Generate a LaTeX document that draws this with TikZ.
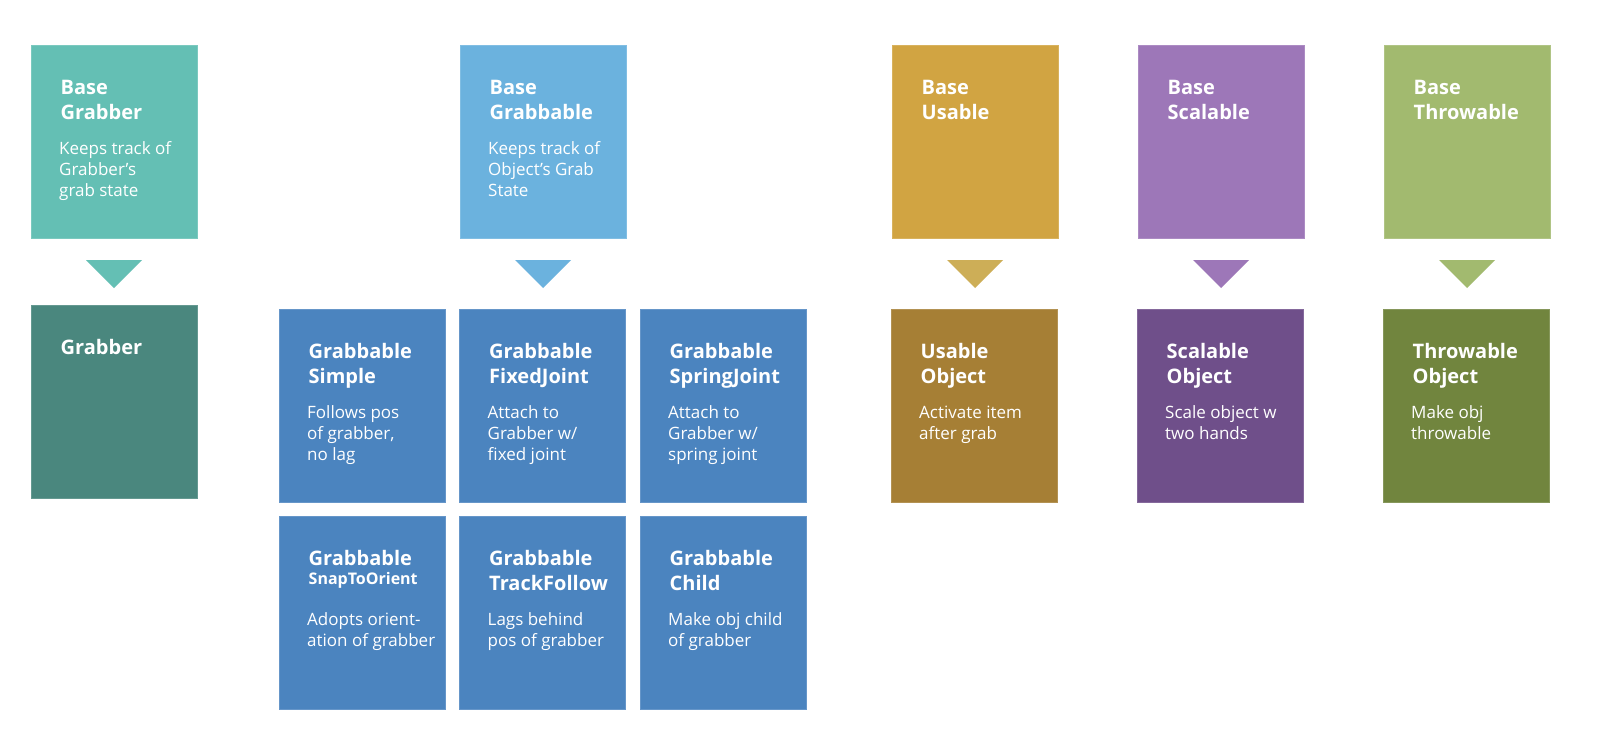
\documentclass[tikz,border=0pt]{standalone}
\usepackage{fontspec}
\setmainfont{Open Sans}
\usetikzlibrary{calc}
\definecolor{tealL}{HTML}{64BFB4}
\definecolor{tealD}{HTML}{4A877E}
\definecolor{blueL}{HTML}{6BB2DE}
\definecolor{blueD}{HTML}{4B84BF}
\definecolor{goldL}{HTML}{D1A442}
\definecolor{goldD}{HTML}{A67F35}
\definecolor{goldT}{HTML}{CDAE57}
\definecolor{purpL}{HTML}{9D77B8}
\definecolor{purpD}{HTML}{6F4F8A}
\definecolor{greenL}{HTML}{A2BA6F}
\definecolor{greenD}{HTML}{71853E}
\tikzset{
  box/.style={fill=#1, draw=#1!85!white, line width=0.8pt, minimum width=166pt,
    minimum height=193pt, anchor=north west, inner sep=0pt, outer sep=0pt},
  ttl/.style={anchor=north west, inner sep=0pt, align=left, text=white,
    font=\bfseries\fontsize{20}{25.3}\selectfont},
  bdy/.style={anchor=north west, inner sep=0pt, align=left, text=white,
    font=\fontsize{17}{21}\selectfont},
}
\newcommand\blk[6]{%
  \node[box=#4] (#1) at (#2,#3) {};
  \node[ttl] (#1t) at ($(#1.north west)+(29.5,29)$) {\rule{0pt}{20pt}#5};
  \node[bdy] (#1b) at ($(#1.north west)+(28,89)$) {\rule{0pt}{20pt}#6};
}
\newcommand\downtri[2]{%
  \fill[#2] ($(#1.south)+(-28,22)$) -- ($(#1.south)+(28,22)$) -- ($(#1.south)+(0,50)$) -- cycle;
}
\begin{document}
\begin{tikzpicture}[x=1pt,y=-1pt]
\fill[white] (0,0) rectangle (1600,742);
\useasboundingbox (0,0) rectangle (1600,742);
% top row
\blk{bgr}{31}{45}{tealL}{Base\\Grabber}{Keeps track of\\Grabber’s\\grab state}
\blk{bgb}{460}{45}{blueL}{Base\\Grabbable}{Keeps track of\\Object’s Grab\\State}
\blk{bus}{892}{45}{goldL}{Base\\Usable}{}
\blk{bsc}{1138}{45}{purpL}{Base\\Scalable}{}
\blk{bth}{1384}{45}{greenL}{Base\\Throwable}{}
% arrows
\downtri{bgr}{tealL}
\downtri{bgb}{blueL}
\downtri{bus}{goldT}
\downtri{bsc}{purpL}
\downtri{bth}{greenL}
% second row
\blk{gr}{31}{305}{tealD}{Grabber}{}
\blk{gs}{279}{309}{blueD}{Grabbable\\Simple}{Follows pos\\of grabber,\\no lag}
\blk{gf}{459.5}{309}{blueD}{Grabbable\\FixedJoint}{Attach to\\Grabber w/\\fixed joint}
\blk{gj}{640}{309}{blueD}{Grabbable\\SpringJoint}{Attach to\\Grabber w/\\spring joint}
\blk{uo}{891}{309}{goldD}{Usable\\Object}{Activate item\\after grab}
\blk{so}{1137}{309}{purpD}{Scalable\\Object}{Scale object w\\two hands}
\blk{to}{1383}{309}{greenD}{Throwable\\Object}{Make obj\\throwable}
% third row
\blk{go}{279}{516}{blueD}{Grabbable\\[-6pt]{\fontsize{16}{20}\selectfont SnapToOrient}}{Adopts orient-\\ation of grabber}
\blk{gt}{459.5}{516}{blueD}{Grabbable\\TrackFollow}{Lags behind\\pos of grabber}
\blk{gc}{640}{516}{blueD}{Grabbable\\Child}{Make obj child\\of grabber}
\end{tikzpicture}
\end{document}
